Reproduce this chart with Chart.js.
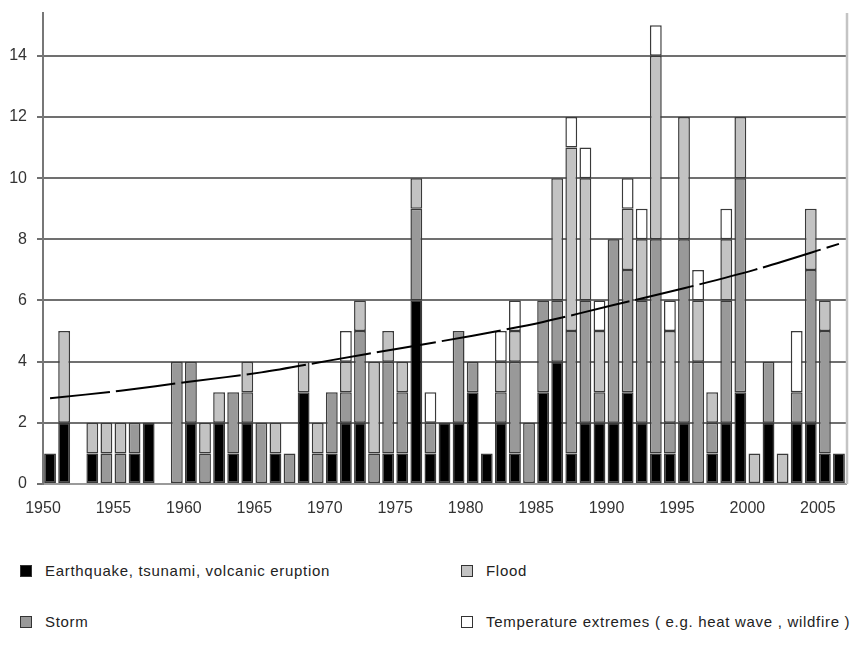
<!DOCTYPE html>
<html>
<head>
<meta charset="utf-8">
<script src="https://cdn.jsdelivr.net/npm/chart.js@4/dist/chart.umd.min.js"></script>
<style>
	body { margin: 0; background: #fff; font-family: "Liberation Sans", Arial, sans-serif; }
	#wrap { position: relative; width: 867px; height: 650px; }
	#chart { position: absolute; left: 0; top: 0; }
	.lg { position: absolute; font-size: 15px; color: #222; letter-spacing: 0.7px; white-space: nowrap; }
	.lg i { position: absolute; left: 0; top: 2px; width: 10px; height: 10px; border: 1px solid #333; }
	.lg span { position: absolute; left: 25px; top: -1px; }
</style>
</head>
<body>
<div id="wrap">
	<canvas id="chart" width="867" height="530"></canvas>
	<div id="legend"></div>
</div>
<script>
// years 1950 - 2006
const years = [];
for (let y = 1950; y <= 2006; y++) years.push(y);

const quake = [1,2,0,1,0,0,1,2,0,0, 2,0,2,1,2,0,1,0,3,0, 1,2,2,0,1,1,6,1,2,2, 3,1,2,1,0,3,4,1,2,2, 2,3,2,1,1,2,0,1,2,3, 0,2,0,2,2,1,1];
const storm = [0,0,0,0,1,1,1,0,0,4, 2,1,0,2,1,2,0,1,0,1, 2,1,3,1,3,2,3,1,0,3, 1,0,1,3,2,3,2,4,4,1, 6,4,4,7,1,6,4,1,4,7, 0,2,0,1,5,4,0];
const flood = [0,3,0,1,1,1,0,0,0,0, 0,1,1,0,1,0,1,0,1,1, 0,1,1,3,1,1,1,0,0,0, 0,0,1,1,0,0,4,6,4,2, 0,2,2,6,3,4,2,1,2,2, 1,0,1,0,2,1,0];
const temp  = [0,0,0,0,0,0,0,0,0,0, 0,0,0,0,0,0,0,0,0,0, 0,1,0,0,0,0,0,1,0,0, 0,0,1,1,0,0,0,1,1,1, 0,1,1,1,1,0,1,0,1,0, 0,0,0,2,0,0,0];

// trend line
const trendYears = [1950, 1955, 1960, 1965, 1970, 1975, 1980, 1985, 1990, 1995, 2000, 2006];
const trendVals  = [2.8, 3.05, 3.35, 3.65, 4.05, 4.45, 4.85, 5.3, 5.85, 6.4, 7.0, 7.85];

const seriesNames = [
	"Earthquake, tsunami, volcanic eruption",
	"Storm",
	"Flood",
	"Temperature extremes (  e.g. heat wave , wildfire )",
];
const seriesColors = ["#000000", "#999999", "#c3c3c3", "#ffffff"];
const seriesData = [quake, storm, flood, temp];

const barSets = seriesData.map((arr, i) => ({
	type: "bar",
	label: seriesNames[i],
	data: arr.map((v, k) => ({ x: years[k] + 0.5, y: v === 0 ? null : v })),
	backgroundColor: seriesColors[i],
	borderColor: "#3a3a3a",
	borderWidth: 1.5,
	borderSkipped: false,
	categoryPercentage: 1,
	barPercentage: 0.84,
	stack: "events",
	order: 1,
}));

const trendSet = {
	type: "line",
	label: "trend",
	data: trendYears.map((y, k) => ({ x: y + 0.5, y: trendVals[k] })),
	borderColor: "#000",
	borderWidth: 2,
	borderDash: [60, 6],
	pointRadius: 0,
	tension: 0.3,
	stack: "trend",
	order: 0,
};

const rightBorder = {
	id: "rightBorder",
	afterDraw(chart) {
		const { ctx, chartArea } = chart;
		ctx.save();
		ctx.strokeStyle = "#c4c4c4";
		ctx.lineWidth = 2.5;
		ctx.beginPath();
		ctx.moveTo(chartArea.right + 1, chartArea.top);
		ctx.lineTo(chartArea.right + 1, chartArea.bottom);
		ctx.stroke();
		ctx.restore();
	},
};

new Chart(document.getElementById("chart"), {
	data: { datasets: [...barSets, trendSet] },
	options: {
		responsive: false,
		animation: false,
		layout: { padding: { top: 13, right: 21, left: 0, bottom: 0 } },
		plugins: { legend: { display: false }, tooltip: { enabled: false } },
		scales: {
			x: {
				type: "linear",
				stacked: true,
				offset: false,
				min: 1950,
				max: 2007,
				grid: { display: false, offset: false },
				border: { display: true, color: "#9a9a9a", width: 2 },
				ticks: {
					stepSize: 5,
					includeBounds: false,
					autoSkip: false,
					maxRotation: 0,
					padding: 7,
					color: "#333",
					font: { family: "Liberation Sans", size: 16 },
					callback: (v) => String(v),
				},
				afterFit: (s) => { s.height = 46; },
			},
			y: {
				stacked: true,
				min: 0,
				max: 15.4,
				grid: { color: "#707070", lineWidth: 2, tickLength: 6 },
				border: { display: true, color: "#777", width: 2 },
				ticks: {
					stepSize: 2,
					includeBounds: false,
					padding: 10,
					color: "#333",
					font: { family: "Liberation Sans", size: 16 },
				},
				afterFit: (s) => {
					s.width = 43;
					s.paddingTop = 0;
					s.paddingBottom = 0;
				},
			},
		},
	},
	plugins: [rightBorder],
});

// legend, two columns like the original
const legendPos = [
	{ left: 20, top: 563 },
	{ left: 20, top: 614 },
	{ left: 461, top: 563 },
	{ left: 461, top: 614 },
];
const legend = document.getElementById("legend");
seriesNames.forEach((name, i) => {
	const d = document.createElement("div");
	d.className = "lg";
	d.style.left = legendPos[i].left + "px";
	d.style.top = legendPos[i].top + "px";
	d.innerHTML = '<i style="background:' + seriesColors[i] + '"></i><span></span>';
	d.querySelector("span").textContent = name;
	legend.appendChild(d);
});
</script>
</body>
</html>
